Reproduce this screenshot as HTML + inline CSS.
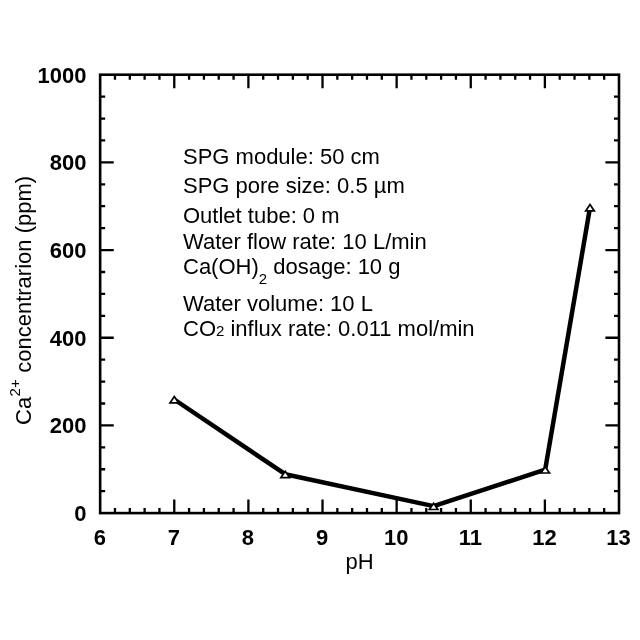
<!DOCTYPE html>
<html><head><meta charset="utf-8"><title>chart</title>
<style>
html,body{margin:0;padding:0;background:#fff;}
body{width:640px;height:640px;overflow:hidden;}
svg{display:block;will-change:transform;}
text{font-family:"Liberation Sans",sans-serif;fill:#000;}
.b{font-weight:bold;font-size:22px;}
.r{font-size:22px;}
.yl{font-size:22px;}
</style></head>
<body>
<svg width="640" height="640" viewBox="0 0 640 640">
<rect width="640" height="640" fill="#fff"/>
<rect x="100.15" y="74.7" width="518.85" height="438.40" fill="none" stroke="#000" stroke-width="2.6"/>
<path d="M114.97 513.1v-5.0M114.97 74.7v5.0M129.80 513.1v-5.0M129.80 74.7v5.0M144.62 513.1v-5.0M144.62 74.7v5.0M159.45 513.1v-5.0M159.45 74.7v5.0M174.27 513.1v-13.6M174.27 74.7v13.6M189.10 513.1v-5.0M189.10 74.7v5.0M203.92 513.1v-5.0M203.92 74.7v5.0M218.74 513.1v-5.0M218.74 74.7v5.0M233.57 513.1v-5.0M233.57 74.7v5.0M248.39 513.1v-13.6M248.39 74.7v13.6M263.22 513.1v-5.0M263.22 74.7v5.0M278.04 513.1v-5.0M278.04 74.7v5.0M292.87 513.1v-5.0M292.87 74.7v5.0M307.69 513.1v-5.0M307.69 74.7v5.0M322.51 513.1v-13.6M322.51 74.7v13.6M337.34 513.1v-5.0M337.34 74.7v5.0M352.16 513.1v-5.0M352.16 74.7v5.0M366.99 513.1v-5.0M366.99 74.7v5.0M381.81 513.1v-5.0M381.81 74.7v5.0M396.64 513.1v-13.6M396.64 74.7v13.6M411.46 513.1v-5.0M411.46 74.7v5.0M426.28 513.1v-5.0M426.28 74.7v5.0M441.11 513.1v-5.0M441.11 74.7v5.0M455.93 513.1v-5.0M455.93 74.7v5.0M470.76 513.1v-13.6M470.76 74.7v13.6M485.58 513.1v-5.0M485.58 74.7v5.0M500.41 513.1v-5.0M500.41 74.7v5.0M515.23 513.1v-5.0M515.23 74.7v5.0M530.05 513.1v-5.0M530.05 74.7v5.0M544.88 513.1v-13.6M544.88 74.7v13.6M559.70 513.1v-5.0M559.70 74.7v5.0M574.53 513.1v-5.0M574.53 74.7v5.0M589.35 513.1v-5.0M589.35 74.7v5.0M604.18 513.1v-5.0M604.18 74.7v5.0M100.15 491.18h5.0M619.0 491.18h-5.0M100.15 469.26h5.0M619.0 469.26h-5.0M100.15 447.34h5.0M619.0 447.34h-5.0M100.15 425.42h13.6M619.0 425.42h-13.6M100.15 403.50h5.0M619.0 403.50h-5.0M100.15 381.58h5.0M619.0 381.58h-5.0M100.15 359.66h5.0M619.0 359.66h-5.0M100.15 337.74h13.6M619.0 337.74h-13.6M100.15 315.82h5.0M619.0 315.82h-5.0M100.15 293.90h5.0M619.0 293.90h-5.0M100.15 271.98h5.0M619.0 271.98h-5.0M100.15 250.06h13.6M619.0 250.06h-13.6M100.15 228.14h5.0M619.0 228.14h-5.0M100.15 206.22h5.0M619.0 206.22h-5.0M100.15 184.30h5.0M619.0 184.30h-5.0M100.15 162.38h13.6M619.0 162.38h-13.6M100.15 140.46h5.0M619.0 140.46h-5.0M100.15 118.54h5.0M619.0 118.54h-5.0M100.15 96.62h5.0M619.0 96.62h-5.0" stroke="#000" stroke-width="2.3" fill="none"/>
<text x="99.75" y="545" class="b" text-anchor="middle">6</text>
<text x="173.87" y="545" class="b" text-anchor="middle">7</text>
<text x="247.99" y="545" class="b" text-anchor="middle">8</text>
<text x="322.11" y="545" class="b" text-anchor="middle">9</text>
<text x="396.24" y="545" class="b" text-anchor="middle">10</text>
<text x="470.36" y="545" class="b" text-anchor="middle">11</text>
<text x="544.48" y="545" class="b" text-anchor="middle">12</text>
<text x="618.60" y="545" class="b" text-anchor="middle">13</text>
<text x="86.5" y="521.00" class="b" text-anchor="end">0</text>
<text x="86.5" y="433.32" class="b" text-anchor="end">200</text>
<text x="86.5" y="345.64" class="b" text-anchor="end">400</text>
<text x="86.5" y="257.96" class="b" text-anchor="end">600</text>
<text x="86.5" y="170.28" class="b" text-anchor="end">800</text>
<text x="86.5" y="82.60" class="b" text-anchor="end">1000</text>
<polyline points="174.3,399.5 285.2,474.2 433.6,506.1 545.2,469.6 590.0,207.5" fill="none" stroke="#000" stroke-width="4.5" stroke-linejoin="round"/>
<path d="M170.00 402.90L178.60 402.90L174.30 396.60Z" fill="#fff" stroke="#000" stroke-width="1.7" stroke-linejoin="miter"/>
<path d="M280.90 477.60L289.50 477.60L285.20 471.30Z" fill="#fff" stroke="#000" stroke-width="1.7" stroke-linejoin="miter"/>
<path d="M429.30 509.50L437.90 509.50L433.60 503.20Z" fill="#fff" stroke="#000" stroke-width="1.7" stroke-linejoin="miter"/>
<path d="M540.90 473.00L549.50 473.00L545.20 466.70Z" fill="#fff" stroke="#000" stroke-width="1.7" stroke-linejoin="miter"/>
<path d="M585.70 210.90L594.30 210.90L590.00 204.60Z" fill="#fff" stroke="#000" stroke-width="1.7" stroke-linejoin="miter"/>
<text x="183" y="164.2" class="r">SPG module: 50 cm</text>
<text x="183" y="192.8" class="r">SPG pore size: 0.5 µm</text>
<text x="183" y="222.7" class="r">Outlet tube: 0 m</text>
<text x="183" y="248.5" class="r">Water flow rate: 10 L/min</text>
<text x="183" y="274.0" class="r">Ca(OH)<tspan dy="10" font-size="15">2</tspan><tspan dy="-10"> dosage: 10 g</tspan></text>
<text x="183" y="311" class="r">Water volume: 10 L</text>
<text x="183" y="336" class="r">CO<tspan font-size="15">2</tspan> influx rate: 0.011 mol/min</text>
<text x="359.5" y="569.4" class="r" text-anchor="middle">pH</text>
<text transform="translate(30.6 425) rotate(-90)" class="r yl">Ca<tspan dx="0.5" dy="-10.5" font-size="15">2+</tspan><tspan dx="0.4" dy="10.5"> concentrarion (ppm)</tspan></text>
</svg>
</body></html>
